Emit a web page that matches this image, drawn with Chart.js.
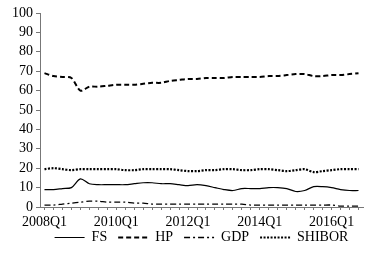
<!DOCTYPE html>
<html>
<head>
<meta charset="utf-8">
<script src="https://cdn.jsdelivr.net/npm/chart.js@4"></script>
<style>
  html, body { margin: 0; padding: 0; background: #fff; }
  #wrap { width: 381px; height: 262px; }
</style>
</head>
<body>
<div id="wrap"><canvas id="grafico"></canvas></div>
<script>
// quarters 2008Q1 .. 2016Q4
var quarters = [];
for (var y = 2008; y <= 2016; y++) {
    for (var q = 1; q <= 4; q++) quarters.push(y + 'Q' + q);
}
var tickLabels = ['2008Q1', '2010Q1', '2012Q1', '2014Q1', '2016Q1'];

var fs = [9, 9, 9.5, 10, 14.5, 12, 11.5, 11.5, 11.5, 11.5, 12, 12.5,
          12.5, 12, 12, 11.5, 11, 11.5, 11, 10, 9, 8.5, 9.5, 9.5,
          9.5, 10, 10, 9.5, 8, 8.5, 10.5, 10.5, 10, 9, 8.5, 8.5];
var hp = [69, 67.5, 67, 66.5, 60, 62, 62, 62.5, 63, 63, 63, 63.5,
          64, 64, 65, 65.5, 66, 66, 66.5, 66.5, 66.5, 67, 67, 67,
          67, 67.5, 67.5, 68, 68.5, 68.5, 67.5, 67.5, 68, 68, 68.5, 69];
var gdp = [1, 1, 1.5, 2, 2.5, 3, 3, 2.5, 2.5, 2.5, 2, 2,
           1.5, 1.5, 1.5, 1.5, 1.5, 1.5, 1.5, 1.5, 1.5, 1.5, 1.5, 1,
           1, 1, 1, 1, 1, 1, 1, 1, 1, 0.5, 0.5, 0.5];
var shibor = [19.5, 20, 19.5, 19, 19.5, 19.5, 19.5, 19.5, 19.5, 19, 19, 19.5,
              19.5, 19.5, 19.5, 19, 18.5, 18.5, 19, 19, 19.5, 19.5, 19, 19,
              19.5, 19.5, 19, 18.5, 19, 19.5, 18, 18.5, 19, 19.5, 19.5, 19.5];

var fuente = { family: "'Liberation Serif', 'DejaVu Serif', serif", size: 14 };

// the x labels overlap the legend's top padding: widen the label clip box after layout
var ajusteEje = {
    id: 'ajusteEje',
    afterLayout: function (chart) {
        var x = chart.scales.x;
        x.bottom = x.top + 30;
    }
};

var ctx = document.getElementById('grafico');
var grafico = new Chart(ctx, {
    type: 'line',
    data: {
        labels: quarters,
        datasets: [
            { label: 'FS', data: fs, borderColor: '#000', backgroundColor: 'transparent', borderWidth: 1.2, borderDash: [] },
            { label: 'HP', data: hp, borderColor: '#000', backgroundColor: 'transparent', borderWidth: 2, borderDash: [5, 3] },
            { label: 'GDP', data: gdp, borderColor: '#000', backgroundColor: 'transparent', borderWidth: 1.3, borderDash: [6, 3, 2, 3] },
            { label: 'SHIBOR', data: shibor, borderColor: '#000', backgroundColor: 'transparent', borderWidth: 2.2, borderDash: [2, 1.5] }
        ]
    },
    plugins: [ajusteEje],
    options: {
        responsive: true,
        maintainAspectRatio: false,
        animation: false,
        elements: { point: { radius: 0 }, line: { tension: 0.3, fill: false } },
        layout: { padding: { left: 9, right: 18, top: 13, bottom: 7.5 } },
        plugins: {
            tooltip: { enabled: false },
            legend: {
                position: 'bottom',
                fullSize: false,
                labels: {
                    usePointStyle: true,
                    pointStyle: 'line',
                    pointStyleWidth: 30,
                    color: '#000',
                    font: fuente,
                    padding: 11,
                    generateLabels: function (chart) {
                        var items = Chart.defaults.plugins.legend.labels.generateLabels(chart);
                        items.forEach(function (it) {
                            var ds = chart.data.datasets[it.datasetIndex];
                            it.lineDash = ds.borderDash;
                            it.lineWidth = ds.borderWidth;
                            it.strokeStyle = ds.borderColor;
                        });
                        return items;
                    }
                }
            }
        },
        scales: {
            x: {
                offset: true,
                grid: { drawOnChartArea: false, offset: false, tickLength: 3, color: '#777' },
                border: { color: '#777' },
                afterFit: function (s) { s.height = 12.5; },
                ticks: {
                    autoSkip: false,
                    maxRotation: 0,
                    color: '#000',
                    font: fuente,
                    padding: 4,
                    callback: function (v, i) {
                        var l = this.getLabelForValue(v);
                        return tickLabels.indexOf(l) >= 0 ? l : '';
                    }
                }
            },
            y: {
                min: 0,
                max: 100,
                grid: { drawOnChartArea: false, tickLength: 4, color: '#777' },
                border: { color: '#777' },
                ticks: { stepSize: 10, autoSkip: false, color: '#000', font: fuente, padding: 3 }
            }
        }
    }
});
</script>
</body>
</html>
